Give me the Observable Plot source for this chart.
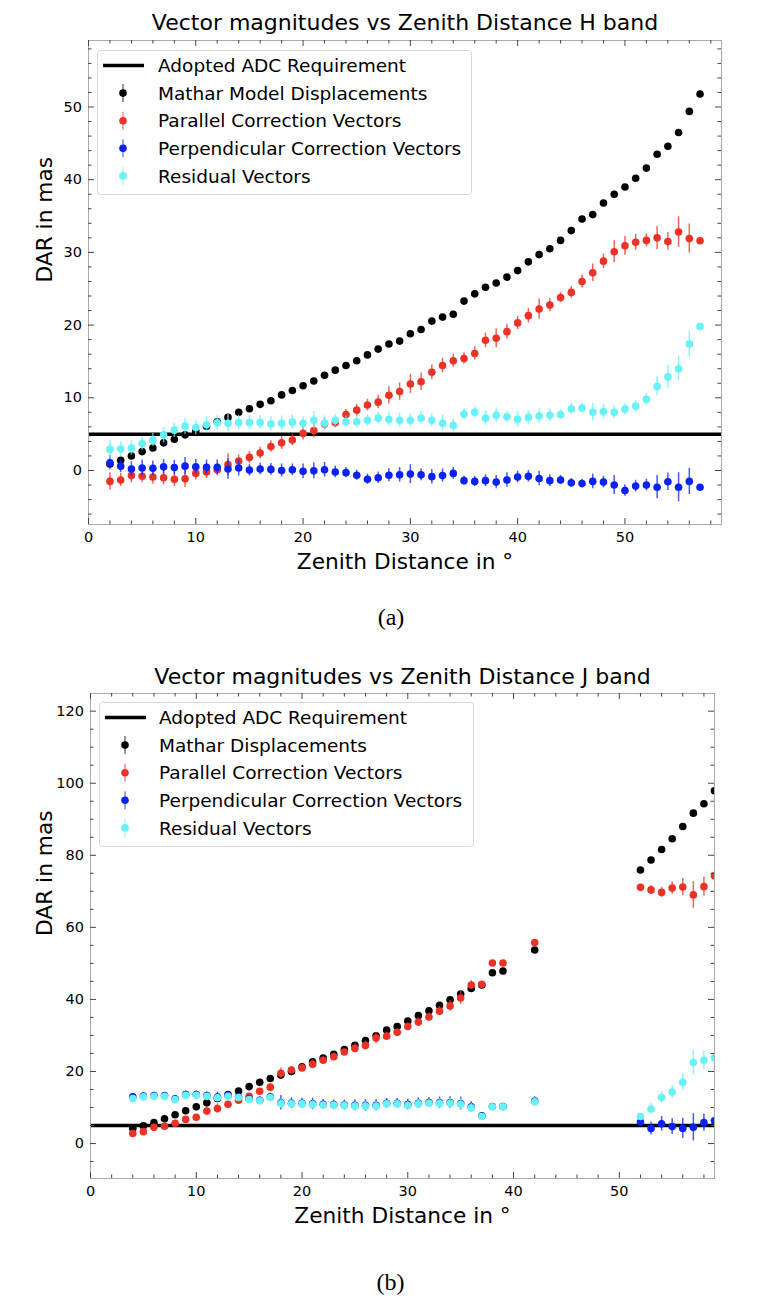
<!DOCTYPE html>
<html><head><meta charset="utf-8">
<script src="https://cdn.jsdelivr.net/npm/d3@7"></script>
<script src="https://cdn.jsdelivr.net/npm/@observablehq/plot@0.6"></script>
<style>
body{margin:0;background:#fff;}
#page{position:relative;width:772px;height:1314px;overflow:hidden;font-family:"DejaVu Sans";}
</style></head><body><div id="page"></div>
<script>
// ---------- shared ----------
const adcRequirement = 5;
const colors = ["#000000", "#ec3226", "#0a22f5", "#66f2f8"];
const xMajorTicks = [0, 10, 20, 30, 40, 50];
const xMinorTicks = [2, 4, 6, 8, 12, 14, 16, 18, 22, 24, 26, 28, 32, 34, 36, 38, 42, 44, 46, 48, 52, 54, 56, 58];

// ---------- (a) H band ----------
const titleH = "Vector magnitudes vs Zenith Distance H band";
const namesH = ["Adopted ADC Requirement", "Mathar Model Displacements", "Parallel Correction Vectors", "Perpendicular Correction Vectors", "Residual Vectors"];
const yMajorTicksH = [0, 10, 20, 30, 40, 50];
const yMinorTicksH = [-6, -4, -2, 2, 4, 6, 8, 12, 14, 16, 18, 22, 24, 26, 28, 32, 34, 36, 38, 42, 44, 46, 48, 52, 54, 56, 58];
const zenithH = [2, 3, 4, 5, 6, 7, 8, 9, 10, 11, 12, 13, 14, 15, 16, 17, 18, 19, 20, 21, 22, 23, 24, 25, 26, 27, 28, 29, 30, 31, 32, 33, 34, 35, 36, 37, 38, 39, 40, 41, 42, 43, 44, 45, 46, 47, 48, 49, 50, 51, 52, 53, 54, 55, 56, 57];
const matharH = [0.9, 1.4, 2.0, 2.6, 3.1, 3.8, 4.3, 4.9, 5.4, 6.1, 6.7, 7.3, 8.0, 8.5, 9.1, 9.6, 10.4, 11.0, 11.65, 12.3, 13.1, 13.8, 14.45, 15.1, 15.9, 16.7, 17.4, 17.8, 18.8, 19.4, 20.55, 21.1, 21.5, 23.3, 24.3, 25.2, 25.8, 26.6, 27.5, 28.7, 29.7, 30.5, 31.65, 33.0, 34.6, 35.2, 36.8, 38.0, 39.0, 40.2, 41.6, 43.5, 44.6, 46.5, 49.4, 51.8];
const matharErrH = [0.3, 0.3, 0.3, 0.3, 0.3, 0.3, 0.3, 0.3, 0.3, 0.3, 0.3, 0.3, 0.3, 0.3, 0.3, 0.3, 0.3, 0.3, 0.3, 0.3, 0.3, 0.3, 0.3, 0.3, 0.3, 0.3, 0.3, 0.3, 0.3, 0.3, 0.3, 0.3, 0.3, 0.3, 0.3, 0.3, 0.3, 0.3, 0.3, 0.3, 0.3, 0.3, 0.3, 0.3, 0.3, 0.3, 0.3, 0.3, 0.3, 0.3, 0.3, 0.3, 0.3, 0.3, 0.3, 0.3];
const parallelH = [-1.5, -1.3, -0.7, -0.8, -0.9, -1.0, -1.2, -1.15, -0.4, -0.2, 0.1, 0.8, 1.3, 1.8, 2.4, 3.3, 3.8, 4.2, 5.1, 5.5, 6.4, 6.6, 7.7, 8.3, 9.0, 9.4, 10.35, 10.85, 11.9, 12.2, 13.5, 14.45, 15.1, 15.4, 16.1, 17.9, 18.2, 19.1, 20.3, 21.3, 22.2, 22.75, 23.8, 24.5, 26.0, 27.2, 28.8, 30.1, 30.9, 31.4, 31.65, 32.0, 31.5, 32.8, 31.9, 31.6];
const parallelErrH = [1.2, 0.9, 1.0, 0.9, 1.0, 1.0, 1.0, 1.2, 0.9, 0.9, 0.8, 1.5, 0.8, 0.8, 0.8, 0.8, 0.9, 0.8, 0.9, 1.0, 0.8, 0.7, 0.7, 0.8, 0.8, 0.9, 1.2, 1.2, 1.3, 1.2, 1.0, 1.0, 0.9, 0.8, 0.9, 1.0, 1.3, 1.0, 0.9, 1.0, 1.4, 0.9, 0.7, 0.8, 0.9, 1.2, 1.0, 1.5, 1.3, 1.1, 0.9, 1.6, 1.2, 2.1, 2.0, 0.3];
const perpendicularH = [1.05, 0.6, 0.2, 0.35, 0.3, 0.5, 0.4, 0.6, 0.5, 0.45, 0.45, 0.2, 0.35, 0.05, 0.2, 0.15, 0.0, 0.1, -0.1, -0.05, 0.1, -0.2, -0.3, -0.65, -1.2, -1.0, -0.65, -0.6, -0.5, -0.6, -0.85, -0.7, -0.4, -1.4, -1.5, -1.4, -1.6, -1.3, -0.9, -0.8, -1.1, -1.4, -1.3, -1.7, -1.8, -1.5, -1.6, -2.0, -2.75, -2.15, -2.0, -2.3, -1.55, -2.3, -1.5, -2.3];
const perpendicularErrH = [1.0, 0.9, 1.0, 1.1, 1.0, 1.0, 1.0, 1.2, 1.0, 1.0, 1.0, 1.4, 1.1, 0.8, 0.8, 0.8, 0.9, 0.8, 1.0, 1.1, 1.0, 0.8, 0.7, 0.7, 0.7, 0.8, 0.9, 1.0, 1.3, 0.8, 1.0, 0.9, 0.8, 0.6, 0.7, 0.8, 0.9, 1.0, 0.8, 0.8, 1.0, 0.8, 0.6, 0.6, 0.6, 1.0, 0.8, 1.3, 0.8, 0.8, 0.8, 1.6, 1.2, 2.0, 1.8, 0.2];
const residualH = [2.9, 2.95, 3.1, 3.7, 4.2, 4.9, 5.55, 6.1, 5.9, 6.3, 6.55, 6.5, 6.6, 6.6, 6.6, 6.4, 6.5, 6.65, 6.5, 6.9, 6.5, 6.9, 6.7, 6.7, 6.9, 7.2, 7.05, 6.9, 6.9, 7.2, 6.9, 6.5, 6.2, 7.75, 8.0, 7.2, 7.6, 7.4, 7.05, 7.3, 7.5, 7.6, 7.7, 8.5, 8.6, 8.0, 8.1, 8.0, 8.45, 8.85, 9.8, 11.55, 12.9, 14.0, 17.4, 19.8];
const residualErrH = [1.3, 1.0, 1.0, 0.9, 0.9, 1.1, 1.0, 1.1, 1.0, 1.1, 1.0, 1.2, 1.0, 1.0, 0.9, 1.0, 1.0, 1.0, 0.9, 1.2, 1.0, 0.8, 0.8, 0.9, 0.8, 0.8, 1.0, 1.0, 0.9, 0.9, 0.9, 1.1, 0.9, 0.7, 0.8, 1.0, 1.0, 0.8, 1.1, 0.9, 1.0, 0.9, 0.7, 0.8, 0.6, 1.2, 1.0, 0.9, 0.8, 0.8, 0.8, 1.3, 1.6, 1.7, 1.8, 0.3];

// ---------- (b) J band ----------
const titleJ = "Vector magnitudes vs Zenith Distance J band";
const namesJ = ["Adopted ADC Requirement", "Mathar Displacements", "Parallel Correction Vectors", "Perpendicular Correction Vectors", "Residual Vectors"];
const yMajorTicksJ = [0, 20, 40, 60, 80, 100, 120];
const yMinorTicksJ = [-5, 5, 10, 15, 25, 30, 35, 45, 50, 55, 65, 70, 75, 85, 90, 95, 105, 110, 115];
const zenithJ = [4, 5, 6, 7, 8, 9, 10, 11, 12, 13, 14, 15, 16, 17, 18, 19, 20, 21, 22, 23, 24, 25, 26, 27, 28, 29, 30, 31, 32, 33, 34, 35, 36, 37, 38, 39, 42, 52, 53, 54, 55, 56, 57, 58, 59];
const matharJ = [4.2, 4.9, 5.8, 6.85, 8.0, 9.1, 10.2, 11.3, 12.5, 13.6, 14.6, 15.8, 17.0, 18.05, 19.0, 20.0, 21.3, 22.7, 23.7, 24.8, 26.1, 27.3, 28.6, 29.9, 31.5, 32.5, 34.0, 35.5, 36.85, 38.4, 39.9, 41.5, 43.05, 44.0, 47.4, 47.9, 53.7, 75.9, 78.7, 81.6, 84.6, 88.0, 91.7, 94.3, 97.9];
const matharErrJ = [0.3, 0.3, 0.3, 0.3, 0.3, 0.3, 0.3, 0.3, 0.4, 0.4, 0.4, 0.4, 0.4, 0.4, 1.0, 0.5, 0.5, 0.5, 0.5, 0.5, 0.5, 0.5, 0.5, 0.5, 0.5, 0.5, 0.5, 0.5, 0.5, 0.5, 0.5, 0.5, 0.5, 0.5, 0.4, 0.4, 0.4, 0.4, 0.4, 0.4, 0.4, 0.4, 0.4, 0.4, 0.4];
const parallelJ = [2.8, 3.3, 4.5, 4.8, 5.65, 6.7, 7.3, 9.0, 9.7, 10.9, 12.0, 13.1, 14.5, 15.65, 19.5, 20.4, 21.0, 22.0, 23.1, 24.1, 25.4, 26.4, 27.2, 29.3, 29.8, 30.9, 32.5, 33.7, 35.1, 36.75, 38.2, 40.4, 44.0, 44.2, 50.1, 50.1, 55.8, 71.1, 70.4, 69.7, 70.9, 71.2, 69.0, 71.3, 74.3];
const parallelErrJ = [0.6, 0.8, 0.6, 0.6, 0.6, 0.7, 0.7, 0.9, 1.3, 0.8, 0.7, 0.7, 0.8, 0.8, 1.5, 0.9, 1.0, 1.2, 0.9, 1.0, 0.9, 1.2, 1.3, 1.5, 1.0, 0.9, 1.0, 1.2, 1.1, 1.3, 1.5, 1.8, 1.2, 0.5, 0.5, 0.5, 0.5, 0.6, 1.2, 1.4, 1.7, 2.4, 3.7, 2.6, 0.6];
const perpendicularJ = [13.0, 13.2, 13.3, 13.3, 12.4, 13.6, 13.6, 13.3, 12.9, 13.3, 13.0, 12.4, 12.0, 13.0, 11.3, 11.2, 11.2, 11.0, 10.9, 10.8, 10.7, 10.6, 10.6, 10.6, 11.2, 11.2, 10.8, 11.2, 11.4, 11.3, 11.4, 11.1, 10.2, 7.7, 10.3, 10.3, 11.8, 6.0, 4.2, 5.5, 4.7, 4.2, 4.5, 5.8, 6.3];
const perpendicularErrJ = [0.8, 0.8, 0.8, 0.8, 0.8, 1.0, 1.0, 1.0, 1.4, 1.0, 1.0, 1.0, 1.0, 1.0, 2.0, 1.5, 1.4, 1.6, 1.3, 1.3, 1.4, 1.5, 1.6, 1.6, 1.3, 1.3, 1.5, 1.5, 1.4, 1.6, 1.6, 1.8, 1.4, 0.8, 0.6, 0.6, 1.2, 0.8, 1.8, 2.0, 2.2, 2.8, 3.8, 2.4, 0.8];
const residualJ = [12.5, 12.95, 13.1, 13.1, 12.2, 13.4, 13.4, 13.1, 12.7, 13.1, 12.8, 12.2, 11.85, 12.8, 11.1, 11.0, 11.0, 10.8, 10.7, 10.65, 10.55, 10.4, 10.4, 10.4, 11.0, 11.0, 10.55, 11.0, 11.2, 11.1, 11.2, 10.9, 9.9, 7.5, 10.2, 10.2, 11.6, 7.5, 9.6, 12.8, 14.3, 17.0, 22.5, 23.1, 23.8];
const residualErrJ = [0.6, 0.6, 0.6, 0.6, 0.6, 0.7, 0.7, 0.7, 0.9, 0.7, 0.7, 0.7, 0.7, 0.8, 1.2, 1.0, 1.0, 1.1, 0.9, 0.9, 1.0, 1.1, 1.2, 1.2, 1.0, 1.0, 1.1, 1.2, 1.1, 1.3, 1.4, 1.5, 1.2, 0.6, 0.5, 0.5, 1.2, 0.6, 1.5, 1.6, 1.8, 2.4, 3.4, 2.6, 1.2];

// ---------- drawing ----------
const page = document.getElementById("page");
const FONT = "DejaVu Sans";

function rowsOf(z, v, e) {
  return z.map((zz, i) => ({z: zz, v: v[i], lo: v[i] - e[i], hi: v[i] + e[i]}));
}

function chart(cfg) {
  const W = 772;
  const innerW = W - cfg.ml - cfg.mr;
  const innerH = cfg.h - cfg.mt - cfg.mb;
  const tk = "#444", L = 6, l = 3.5;
  const marks = [Plot.ruleY([adcRequirement], {y: d => d, stroke: "black", strokeWidth: 3.5})];
  cfg.series.forEach((s, i) => {
    const rows = rowsOf(cfg.z, s.v, s.e);
    marks.push(Plot.ruleX(rows, {x: "z", y1: "lo", y2: "hi", stroke: colors[i], strokeWidth: 1.5, strokeOpacity: 0.75, clip: true}));
    marks.push(Plot.dot(rows, {x: "z", y: "v", r: 3.8, fill: colors[i], stroke: "none", clip: true}));
  });
  marks.push(
    Plot.frame({stroke: "#aaa"}),
    Plot.tickX(xMajorTicks, {x: d => d, insetTop: innerH - L, stroke: tk}),
    Plot.tickX(xMajorTicks, {x: d => d, insetBottom: innerH - L, stroke: tk}),
    Plot.tickX(xMinorTicks, {x: d => d, insetTop: innerH - l, stroke: tk}),
    Plot.tickX(xMinorTicks, {x: d => d, insetBottom: innerH - l, stroke: tk}),
    Plot.tickY(cfg.yMajor, {y: d => d, insetRight: innerW - L, stroke: tk}),
    Plot.tickY(cfg.yMajor, {y: d => d, insetLeft: innerW - L, stroke: tk}),
    Plot.tickY(cfg.yMinor, {y: d => d, insetRight: innerW - l, stroke: tk}),
    Plot.tickY(cfg.yMinor, {y: d => d, insetLeft: innerW - l, stroke: tk}),
    Plot.axisX({ticks: xMajorTicks, tickSize: 0, tickPadding: 7.5, fontSize: 14.5, label: null}),
    Plot.axisY({ticks: cfg.yMajor, tickSize: 0, tickPadding: 6.5, fontSize: 14.5, label: null}),
    Plot.text([cfg.title], {text: d => d, frameAnchor: "top", dy: cfg.titleDy, lineAnchor: "bottom", fontSize: 22, fill: "black"}),
    Plot.text(["Zenith Distance in °"], {text: d => d, frameAnchor: "bottom", dy: 44.3, lineAnchor: "bottom", fontSize: 21.7, fill: "black"}),
    Plot.text(["DAR in mas"], {text: d => d, frameAnchor: "left", dx: cfg.ylabDx, rotate: -90, lineAnchor: "middle", fontSize: 21.7, fill: "black"}),
    Plot.text([cfg.caption], {text: d => d, frameAnchor: "bottom", dx: cfg.capDx, dy: cfg.capDy, lineAnchor: "middle", fontSize: 24, fontFamily: "Liberation Serif", fill: "black"})
  );
  const svg = Plot.plot({
    width: W, height: cfg.h,
    marginLeft: cfg.ml, marginRight: cfg.mr, marginTop: cfg.mt, marginBottom: cfg.mb,
    x: {domain: [0, 59]},
    y: {domain: cfg.yDomain},
    style: {fontFamily: FONT, fontSize: "14.5px", color: "black", background: "white", overflow: "visible"},
    marks
  });
  svg.style.position = "absolute";
  svg.style.left = "0px";
  svg.style.top = cfg.top + "px";
  page.appendChild(svg);
}

function legend(left, top, textX, names) {
  const svg = d3.select(page).append("svg")
    .style("position", "absolute").style("left", left + "px").style("top", top + "px")
    .attr("width", 378).attr("height", 148);
  svg.append("rect").attr("x", 0.5).attr("y", 0.5).attr("width", 374).attr("height", 144).attr("rx", 3)
    .attr("fill", "white").attr("fill-opacity", 0.8).attr("stroke", "#d9d9d9");
  names.forEach((n, i) => {
    const cy = 15.5 + i * 27.6;
    if (i === 0) {
      svg.append("line").attr("x1", 6).attr("x2", 47).attr("y1", cy).attr("y2", cy).attr("stroke", "black").attr("stroke-width", 3.5);
    } else {
      svg.append("line").attr("x1", 26).attr("x2", 26).attr("y1", cy - 9).attr("y2", cy + 9)
        .attr("stroke", colors[i - 1]).attr("stroke-width", 1.5).attr("stroke-opacity", 0.55);
      svg.append("circle").attr("cx", 26).attr("cy", cy).attr("r", 3.8).attr("fill", colors[i - 1]);
    }
    svg.append("text").attr("x", textX).attr("y", cy + 6.7).attr("font-family", FONT).attr("font-size", 18.5)
      .attr("fill", "black").text(n);
  });
}

chart({
  top: 0, h: 653, ml: 88, mr: 51, mt: 40, mb: 129,
  yDomain: [-7.43, 59.15], yMajor: yMajorTicksH, yMinor: yMinorTicksH,
  z: zenithH,
  series: [{v: matharH, e: matharErrH}, {v: parallelH, e: parallelErrH}, {v: perpendicularH, e: perpendicularErrH}, {v: residualH, e: residualErrH}],
  title: titleH, titleDy: -10.7, ylabDx: -43, caption: "(a)", capDx: -14, capDy: 93
});
chart({
  top: 653, h: 661, ml: 90, mr: 58, mt: 40, mb: 136,
  yDomain: [-9.7, 124.9], yMajor: yMajorTicksJ, yMinor: yMinorTicksJ,
  z: zenithJ,
  series: [{v: matharJ, e: matharErrJ}, {v: parallelJ, e: parallelErrJ}, {v: perpendicularJ, e: perpendicularErrJ}, {v: residualJ, e: residualErrJ}],
  title: titleJ, titleDy: -9.7, ylabDx: -45, caption: "(b)", capDx: -12, capDy: 104
});
legend(97, 50, 61, namesH);
legend(99, 702, 60, namesJ);
</script></body></html>
